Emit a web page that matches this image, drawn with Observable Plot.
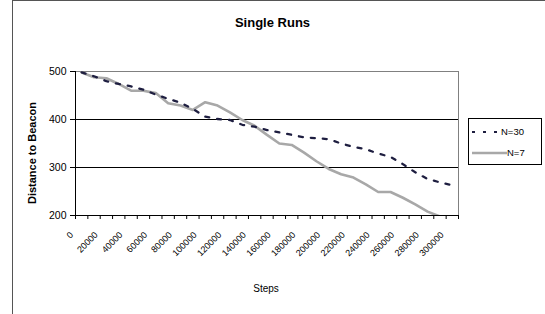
<!DOCTYPE html>
<html>
<head>
<meta charset="utf-8">
<script src="https://cdn.jsdelivr.net/npm/d3@7"></script>
<script src="https://cdn.jsdelivr.net/npm/@observablehq/plot@0.6"></script>
<style>
  html, body { margin: 0; padding: 0; background: #fff; overflow: hidden; }
  body { width: 545px; height: 314px; font-family: "Liberation Sans", Arial, sans-serif; }
  #wrap { position: relative; width: 545px; height: 314px; overflow: hidden; }
  #border { position: absolute; left: 12px; top: 0px; width: 600px; height: 400px; border: 1px solid #555; box-sizing: border-box; }
  #chart { position: absolute; left: 0; top: 0; }
  #title { position: absolute; left: 0; width: 545px; top: 15px; text-align: center; font-weight: bold; font-size: 13px; }
  #ytitle { position: absolute; left: 32px; top: 153px; transform: translate(-50%, -50%) rotate(-90deg); white-space: nowrap; font-weight: bold; font-size: 11px; }
  #xtitle { position: absolute; left: 266px; top: 283px; transform: translateX(-50%); font-size: 10px; }
  #legend { position: absolute; left: 468px; top: 118px; width: 74px; height: 47px; border: 1px solid #000; box-sizing: border-box; background: #fff; font-size: 9.5px; }
  .lrow { position: absolute; left: 2px; height: 12px; display: flex; align-items: center; }
</style>
</head>
<body>
<div id="wrap">
  <div id="border"></div>
  <div id="chart"></div>
  <div id="title">Single Runs</div>
  <div id="ytitle">Distance to Beacon</div>
  <div id="xtitle">Steps</div>
  <div id="legend"></div>
</div>
<script>
// Categories (steps) and series values
const steps = [0, 10000, 20000, 30000, 40000, 50000, 60000, 70000, 80000, 90000,
  100000, 110000, 120000, 130000, 140000, 150000, 160000, 170000, 180000, 190000,
  200000, 210000, 220000, 230000, 240000, 250000, 260000, 270000, 280000, 290000, 300000];
const seriesN30 = [498, 490, 480, 474, 469, 462, 452, 443, 435, 422,
  406, 401, 399, 389, 385, 378, 373, 368, 363, 361,
  359, 350, 343, 338, 329, 322, 307, 290, 276, 269, 263];
const seriesN7 = [498, 488, 486, 474, 460, 460, 455, 434, 429, 420,
  436, 429, 415, 399, 387, 368, 350, 347, 331, 313,
  297, 286, 279, 265, 249, 249, 237, 223, 208, 198, 188];
const yTicks = [200, 300, 400, 500];
const gridValues = [300, 400];
const seriesNames = ["N=30", "N=7"];
const step = 10000;

const data = steps.map((s, i) => ({step: s, n30: seriesN30[i], n7: seriesN7[i]}));
// category boundaries (Excel draws ticks between categories)
const bounds = steps.map(s => s - step / 2).concat([steps[steps.length - 1] + step / 2]);
const labelSteps = steps.filter((s, i) => i % 2 === 0);

const chart = Plot.plot({
  width: 545,
  height: 314,
  marginLeft: 75,
  marginRight: 87,
  marginTop: 71,
  marginBottom: 99,
  style: {fontFamily: "'Liberation Sans', Arial, sans-serif", background: "transparent", overflow: "visible"},
  x: {type: "linear", domain: [bounds[0], bounds[bounds.length - 1]]},
  y: {domain: [yTicks[0], yTicks[yTicks.length - 1]]},
  marks: [
    Plot.frame({stroke: "#808080"}),
    Plot.ruleY(gridValues, {stroke: "#000", strokeWidth: 1}),
    Plot.lineY(data, {x: "step", y: "n7", stroke: "#a8a8a8", strokeWidth: 2.6, clip: true}),
    Plot.lineY(data, {x: "step", y: "n30", stroke: "#1e1e40", strokeWidth: 2.3, strokeDasharray: "4,8", clip: true}),
    Plot.ruleY([yTicks[0]], {stroke: "#000"}),
    Plot.ruleX([bounds[0]], {stroke: "#000"}),
    Plot.axisY({ticks: yTicks, tickSize: 5, tickPadding: 4, fontSize: 10.5, label: null, tickFormat: d => String(d), stroke: "#000", color: "#000"}),
    Plot.axisX({ticks: bounds, tickSize: 4, tickFormat: () => "", label: null, stroke: "#000"}),
    Plot.text(labelSteps, {x: d => d, frameAnchor: "bottom", text: d => String(d), rotate: -45, textAnchor: "end", dx: -8, dy: 20, fontSize: 9, fill: "#000"})
  ]
});
document.getElementById("chart").appendChild(chart);

// Legend
const legend = document.getElementById("legend");
const entries = [
  {name: seriesNames[0], stroke: "#1e1e40", width: 2.2, dash: "3,8", top: 6},
  {name: seriesNames[1], stroke: "#a8a8a8", width: 2.4, dash: null, top: 27}
];
entries.forEach(e => {
  const row = document.createElement("div");
  row.className = "lrow";
  row.style.top = e.top + "px";
  const svg = d3.create("svg").attr("width", e.dash ? 30 : 36).attr("height", 12);
  svg.append("line").attr("x1", 1).attr("x2", e.dash ? 30 : 36).attr("y1", 7).attr("y2", 7)
    .attr("stroke", e.stroke).attr("stroke-width", e.width).attr("stroke-dasharray", e.dash);
  row.appendChild(svg.node());
  const t = document.createElement("span");
  t.textContent = e.name;
  row.appendChild(t);
  legend.appendChild(row);
});
</script>
</body>
</html>
